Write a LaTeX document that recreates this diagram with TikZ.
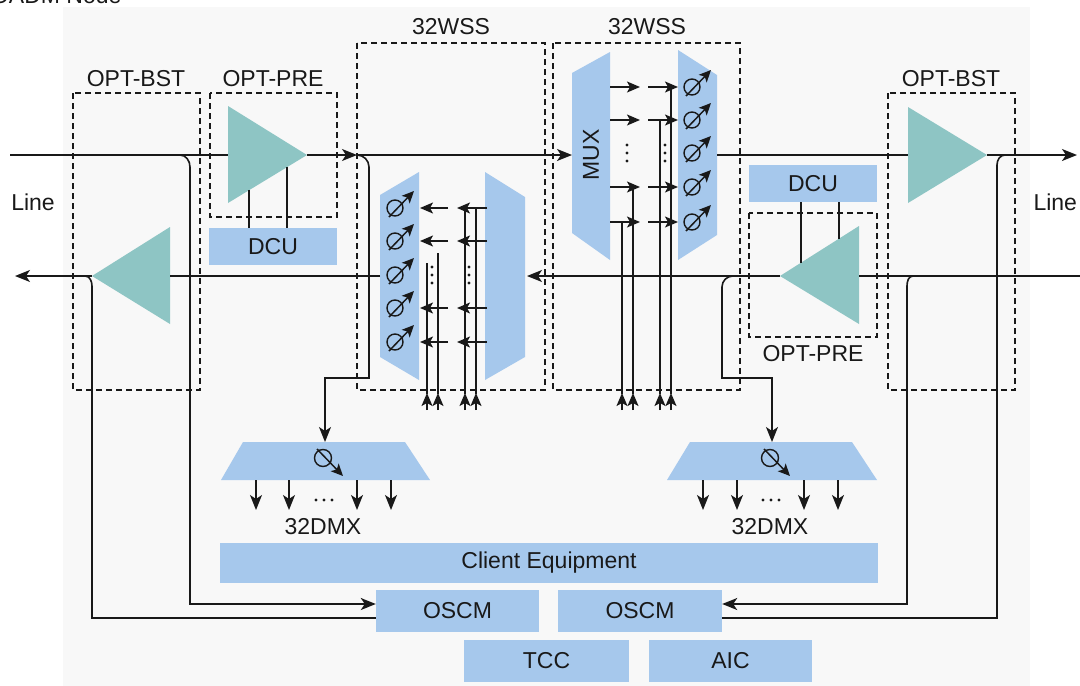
\documentclass[tikz,border=0pt]{standalone}
\usepackage{fontspec}
\setmainfont{Liberation Sans}
\usepackage{tikz}
\usetikzlibrary{arrows.meta}

\definecolor{boxblue}{RGB}{166,200,236}
\definecolor{ampteal}{RGB}{142,197,196}
\definecolor{panel}{RGB}{248,248,248}
\definecolor{ink}{RGB}{25,25,25}

\tikzset{
  voa/.pic={
    \draw[ink,line width=1.4pt] (0,0) circle[radius=8pt];
    \draw[ink,line width=1.5pt,-{Stealth[length=12pt,width=11pt,inset=3pt]}] (-6,9) -- (19,-17);
  },
  vsel/.pic={
    \draw[ink,line width=1.4pt] (0,0) circle[radius=8.5pt];
    \draw[ink,line width=1.5pt,-{Stealth[length=12pt,width=11pt,inset=3pt]}] (-6,-9) -- (20,18);
  }
}

\begin{document}
\begin{tikzpicture}[x=1pt,y=-1pt,>={Stealth[length=15pt,width=12pt,inset=4pt]},
    sig/.style={draw=ink,line width=1.6pt},
    fib/.style={draw=ink,line width=1.4pt},
    sm/.style={fib,-{Stealth[length=13pt,width=11pt,inset=3pt]}},
    grp/.style={draw=ink,line width=1.1pt,dash pattern=on 6pt off 4pt},
    blk/.style={fill=boxblue,text=ink,inner sep=0pt,minimum height=42},
    amp/.style={fill=ampteal},
    lbl/.style={text=ink},
    font=\fontsize{23}{27}\selectfont]
	\useasboundingbox (0,0) rectangle (1080,686);
	\fill[panel] (63,7) rectangle (1030,686);
	\node[lbl,anchor=base east] (title) at (125,3) {ROADM Node};

	\draw[grp] (73,93) rectangle (200,390);
	\draw[grp] (210,93) rectangle (337,217);
	\draw[grp] (357,43) rectangle (545,390);
	\draw[grp] (553,43) rectangle (740,390);
	\draw[grp] (749,213) rectangle (877,337);
	\draw[grp] (888,93) rectangle (1015,390);
	\node[lbl] (bstLlbl) at (136,79)  {OPT-BST};
	\node[lbl] (preLlbl) at (273,79)  {OPT-PRE};
	\node[lbl] (wssAlbl) at (451,27)  {32WSS};
	\node[lbl] (wssBlbl) at (647,27)  {32WSS};
	\node[lbl] (bstRlbl) at (951,79)  {OPT-BST};
	\node[lbl] (preRlbl) at (813,354) {OPT-PRE};
	\node[lbl] (lineL) at (33,202) {Line};
	\node[lbl,anchor=west] (lineR) at (1030,202) {Line};

	\node[blk,minimum width=128,minimum height=37] (dcuL) at (273,246.5) {DCU};
	\node[blk,minimum width=128,minimum height=37] (dcuR) at (813,183.5) {DCU};
	\node[blk,minimum width=658,minimum height=40] (client) at (549,563) {Client Equipment};
	\node[blk,minimum width=163] (oscL) at (457.5,611) {OSCM};
	\node[blk,minimum width=164] (oscR) at (640,611)   {OSCM};
	\node[blk,minimum width=165] (tcc)  at (546.5,661) {TCC};
	\node[blk,minimum width=163] (aic)  at (730.5,661) {AIC};

	\coordinate (preL-back) at (228,155); \coordinate (preL-tip) at (307,155);
	\coordinate (bstL-back) at (170,276); \coordinate (bstL-tip) at (92,276);
	\coordinate (bstR-back) at (908,155); \coordinate (bstR-tip) at (987,155);
	\coordinate (preR-back) at (859,276); \coordinate (preR-tip) at (780,276);
	\fill[amp] (228,106) -- (preL-tip) -- (228,203) -- cycle;
	\fill[amp] (170,227) -- (bstL-tip) -- (170,324) -- cycle;
	\fill[amp] (908,107) -- (bstR-tip) -- (908,203) -- cycle;
	\fill[amp] (859,226) -- (preR-tip) -- (859,324) -- cycle;

	\fill[boxblue] (380,195) -- (419,172) -- (419,380) -- (380,357) -- cycle;
	\fill[boxblue] (485,172) -- (525,197) -- (525,357) -- (485,380) -- cycle;
	\fill[boxblue] (572,73) -- (610,52) -- (610,260) -- (572,233) -- cycle;
	\fill[boxblue] (678,50) -- (717,75) -- (717,235) -- (678,260) -- cycle;
	\node[lbl,rotate=90] (muxlbl) at (591,155) {MUX};
	\coordinate (wssA-out) at (380,276); \coordinate (wssA-in) at (527,276);
	\coordinate (wssA-tap) at (357,155); \coordinate (mux-in) at (572,155);
	\coordinate (wssB-out) at (717,155);

	\coordinate (lineL-in) at (10,155);  \coordinate (lineR-out) at (1077,155);
	\coordinate (lineR-in) at (1080,276); \coordinate (lineL-out) at (15,276);
	\draw[sig] (lineL-in) -- (preL-back);
	\draw[sig,->] (preL-tip) -- (wssA-tap);
	\draw[sig,->] (wssA-tap) -- (mux-in);
	\draw[sig] (wssB-out) -- (bstR-back);
	\draw[sig,->] (bstR-tip) -- (lineR-out);
	\draw[sig] (lineR-in) -- (preR-back);
	\draw[sig,->] (preR-tip) -- (wssA-in);
	\draw[sig] (wssA-out) -- (bstL-back);
	\draw[sig,->] (bstL-tip) -- (lineL-out);

	\coordinate (preL-m1) at (249,190); \coordinate (preL-m2) at (287,167);
	\coordinate (preR-m1) at (801,263); \coordinate (preR-m2) at (839,239);
	\draw[fib] (preL-m1) -- (preL-m1 |- dcuL.north);
	\draw[fib] (preL-m2) -- (preL-m2 |- dcuL.north);
	\draw[fib] (preR-m1) -- (preR-m1 |- dcuR.south);
	\draw[fib] (preR-m2) -- (preR-m2 |- dcuR.south);

	\foreach \y in {208,241,308,342} {
		\draw[sm] (487,\y) -- (457,\y);
		\draw[sm] (448,\y) -- (420,\y);
	}
	\foreach \y in {87,120,187,222} {
		\draw[sm] (610,\y) -- (640,\y);
		\draw[sm] (648,\y) -- (678,\y);
	}
	\foreach \x/\t in {427/263,438/253,465/208,476/208,622/222,633/187,660/120,671/87} {
		\draw[fib] (\x,\t) -- (\x,394);
		\draw[sm] (\x,410) -- (\x,393);
	}
	\foreach \x/\y in {432/275,469/275,627/153,665/153}
		\foreach \d in {-8,0,8}
			\fill[ink] (\x,\y+\d) circle[radius=1.7pt];
	\foreach \y in {208,241,275,308,342} \pic at (395,\y) {voa};
	\foreach \y in {87,120,153,187,222} \pic at (692,\y) {voa};

	\fill[boxblue] (243,442) -- (405,442) -- (430,480) -- (221,480) -- cycle;
	\fill[boxblue] (690,442) -- (852,442) -- (877,480) -- (667,480) -- cycle;
	\coordinate (dmxL-in) at (325,442); \coordinate (dmxR-in) at (772,442);
	\pic at (323,458) {vsel};
	\pic at (770,458) {vsel};
	\foreach \x in {256,289,357,391,703,737,804,838}
		\draw[sig,->] (\x,480) -- (\x,510);
	\foreach \x in {316,324,332,763,771,779}
		\fill[ink] (\x,500) circle[radius=1.7pt];
	\node[lbl] (dmxLlbl) at (323,527) {32DMX};
	\node[lbl] (dmxRlbl) at (770,527) {32DMX};

	\draw[sig,->] (wssA-tap) to[out=0,in=90] (369,167) |- (325,378) -- (dmxL-in);
	\draw[sig,->] (733,276) to[out=180,in=90] (722,287) |- (772,378) -- (dmxR-in);

	\draw[sig,->] (180,155) to[out=0,in=90] (190,167) |- ([yshift=7pt]oscL.west);
	\draw[sig] (85,276) to[out=0,in=90] (92,286) |- ([yshift=-7pt]oscL.west);
	\draw[sig,->] (913,276) to[out=180,in=90] (907,286) |- ([yshift=7pt]oscR.east);
	\draw[sig] (1005,155) to[out=180,in=90] (997,165) |- ([yshift=-7pt]oscR.east);
\end{tikzpicture}
\end{document}
